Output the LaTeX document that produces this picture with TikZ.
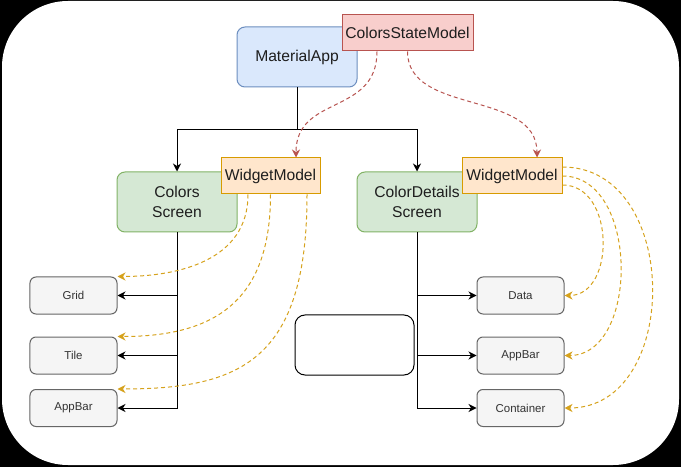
\documentclass[tikz,border=0pt]{standalone}
\usepackage{fontspec}
\setmainfont{Liberation Sans}
\usetikzlibrary{arrows.meta}
\definecolor{bluefill}{HTML}{DAE8FC}
\definecolor{bluedraw}{HTML}{6C8EBF}
\definecolor{greenfill}{HTML}{D5E8D4}
\definecolor{greendraw}{HTML}{82B366}
\definecolor{redfill}{HTML}{F8CECC}
\definecolor{reddraw}{HTML}{B85450}
\definecolor{orangefill}{HTML}{FFE6CC}
\definecolor{orangedraw}{HTML}{D79B00}
\definecolor{golddash}{HTML}{D6A21C}
\definecolor{grayfill}{HTML}{F5F5F5}
\definecolor{graydraw}{HTML}{666666}
\definecolor{maintxt}{HTML}{1E1E1E}
\definecolor{smalltxt}{HTML}{333333}
\tikzset{
  bigbox/.style={rounded corners=8bp, minimum width=120bp, minimum height=60bp, inner sep=0pt,
    align=center, line width=1bp, font=\fontsize{15.7}{20}\selectfont, text=maintxt},
  bluebox/.style={bigbox, fill=bluefill, draw=bluedraw},
  greenbox/.style={bigbox, fill=greenfill, draw=greendraw},
  modelbox/.style={minimum height=36bp, inner sep=0pt, line width=1bp,
    font=\fontsize{15.7}{20}\selectfont, text=maintxt},
  redbox/.style={modelbox, fill=redfill, draw=reddraw, minimum width=131bp},
  orangebox/.style={modelbox, fill=orangefill, draw=orangedraw, minimum width=99bp},
  smallbox/.style={rounded corners=6bp, minimum width=87bp, minimum height=37bp, inner sep=0pt,
    fill=grayfill, draw=graydraw, line width=1bp, font=\fontsize{11.5}{13}\selectfont, text=smalltxt},
  treeline/.style={draw=black, line width=1bp},
  treearrow/.style={treeline, -{Stealth[length=8bp,width=8bp,inset=2.5bp]}},
  reddash/.style={draw=reddraw, line width=1bp, dash pattern=on 4bp off 3bp,
    -{Stealth[length=8bp,width=8bp,inset=2.5bp]}},
  golddashed/.style={draw=golddash, line width=1bp, dash pattern=on 4bp off 3bp,
    -{Stealth[length=8bp,width=8bp,inset=2.5bp]}},
}
\begin{document}
\begin{tikzpicture}[x=1bp,y=-1bp]
\useasboundingbox (0,0) rectangle (681,467);
\fill[black] (0,0) rectangle (681,467);
\fill[white, rounded corners=66bp] (2,1) rectangle (679,465);

% nodes
\node[bluebox] (ma) at (297,57) {MaterialApp};
\node[redbox] (csm) at (407.5,33) {ColorsStateModel};
\node[greenbox] (cs) at (177,202) {Colors\\Screen};
\node[orangebox] (wm1) at (270.5,176) {WidgetModel};
\node[greenbox] (cds) at (417,202) {ColorDetails\\Screen};
\node[orangebox, minimum width=100bp] (wm2) at (512,176) {WidgetModel};

\node[smallbox] (grid) at (73.5,295.5) {Grid};
\node[smallbox] (tile) at (73.5,355.5) {Tile};
\node[smallbox] (appbarl) at (73.5,408) {AppBar};

\node[smallbox] (data) at (520.5,295.5) {Data};
\node[smallbox] (appbarr) at (520.5,355.5) {AppBar};
\node[smallbox] (container) at (520.5,408) {Container};

\node[draw=black, fill=white, rounded corners=10bp, minimum width=119bp, minimum height=60bp,
  line width=1bp, inner sep=0pt] (blank) at (354.5,345) {};

% tree connectors
\coordinate (j) at (297,130);
\draw[treeline] (ma.south) -- (j);
\draw[treearrow] (j) -| (cs.north);
\draw[treearrow] (j) -| (cds.north);

\draw[treearrow] (cs.south) |- (grid.east);
\draw[treearrow] (cs.south) |- (tile.east);
\draw[treearrow] (cs.south) |- (appbarl.east);

\draw[treearrow] (cds.south) |- (data.west);
\draw[treearrow] (cds.south) |- (appbarr.west);
\draw[treearrow] (cds.south) |- (container.west);

% state model links
\draw[reddash] ([xshift=-30.5bp]csm.south) .. controls +(0,64) and +(0,-63) .. ([xshift=25.5bp]wm1.north);
\draw[reddash] (csm.south) .. controls +(0,64) and +(0,-68) .. ([xshift=25bp]wm2.north);

% widget model links (left)
\draw[golddashed] ([xshift=-22.5bp]wm1.south) .. controls +(0,66) and +(61,0) .. (grid.north east);
\draw[golddashed] (wm1.south) .. controls +(0,106) and +(98,0) .. (tile.north east);
\draw[golddashed] ([xshift=36.5bp]wm1.south) .. controls +(0,166) and +(123,0) .. (appbarl.north east);

% widget model links (right)
\draw[golddashed] ([yshift=-9bp]wm2.east) .. controls +(53,0) and +(51,0) .. (data.east);
\draw[golddashed] (wm2.east) .. controls +(77,0) and +(75,0) .. (appbarr.east);
\draw[golddashed] ([yshift=9bp]wm2.east) .. controls +(119,0) and +(117,0) .. (container.east);
\end{tikzpicture}
\end{document}
